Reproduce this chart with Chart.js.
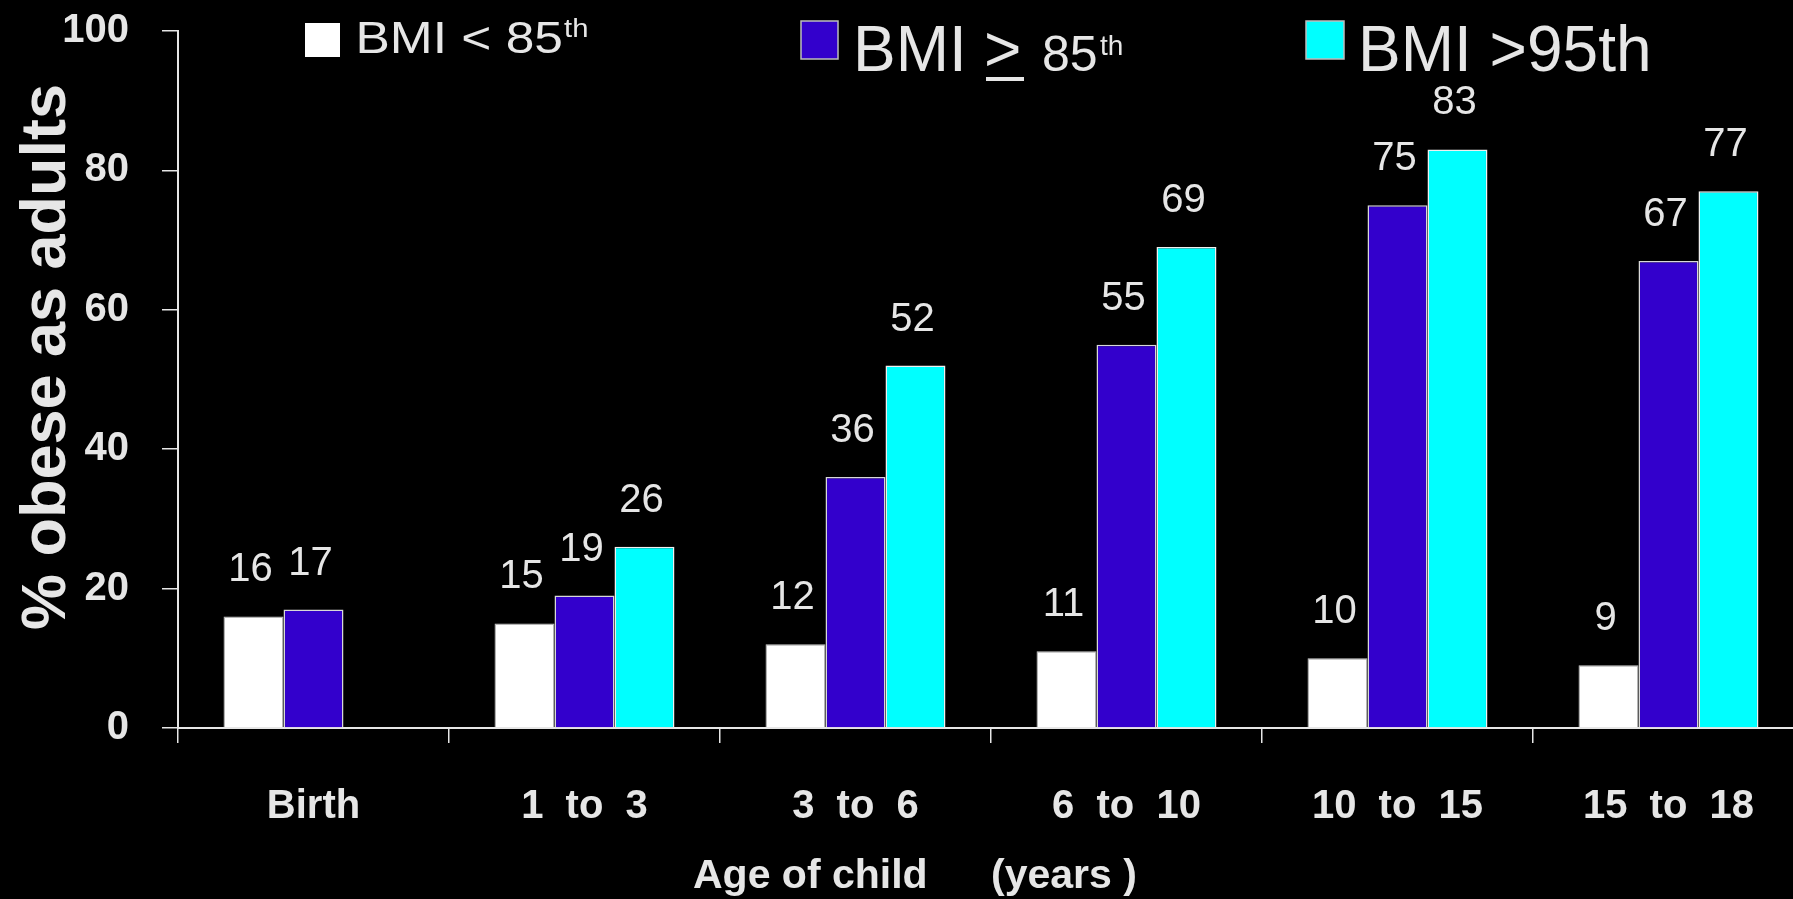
<!DOCTYPE html>
<html>
<head>
<meta charset="utf-8">
<title>Childhood BMI and adult obesity</title>
<script src="https://cdn.jsdelivr.net/npm/chart.js@4.4.1/dist/chart.umd.min.js"></script>
<style>
  html, body { margin: 0; padding: 0; background: #000; overflow: hidden; }
  #wrap { width: 1806px; height: 899px; }
</style>
</head>
<body>
<div id="wrap"><canvas id="chart" width="1806" height="899"></canvas></div>
<script>
// Age groups of the child
const categories = ['Birth', '1  to  3', '3  to  6', '6  to  10', '10  to  15', '15  to  18'];

// Percentage obese as adults, by childhood BMI group
const bmiBelow85 = [16, 15, 12, 11, 10, 9];
const bmiAtLeast85 = [17, 19, 36, 55, 75, 67];
const bmiAbove95 = [null, 26, 52, 69, 83, 77];

const seriesLabels = ['BMI < 85th', 'BMI \u2265 85th', 'BMI >95th'];
const yTicks = [0, 20, 40, 60, 80, 100];

const TEXT = '#e6e6e6';
const FONT = "'Liberation Sans', Arial, Helvetica, sans-serif";
const WHITE = '#ffffff';
const BLUE = '#3300cc';
const CYAN = '#00ffff';

// Numbers above each bar
const valueLabels = {
  id: 'valueLabels',
  afterDatasetsDraw(chart) {
    const ctx = chart.ctx;
    ctx.save();
    ctx.fillStyle = TEXT;
    ctx.font = '40px ' + FONT;
    ctx.textAlign = 'center';
    ctx.textBaseline = 'alphabetic';
    chart.data.datasets.forEach((ds, i) => {
      const meta = chart.getDatasetMeta(i);
      meta.data.forEach((bar, j) => {
        const v = ds.data[j];
        if (v === null || v === undefined) return;
        ctx.fillText(String(v), bar.x - 3, bar.y - 35);
      });
    });
    ctx.restore();
  }
};

// Legend across the top with superscripts and the underlined ">" sign
const topLegend = {
  id: 'topLegend',
  afterDraw(chart) {
    const ctx = chart.ctx;
    const colors = chart.data.datasets.map(d => d.backgroundColor);
    ctx.save();
    ctx.fillStyle = TEXT;
    ctx.textBaseline = 'alphabetic';
    ctx.textAlign = 'left';

    // item 1 : BMI < 85th
    ctx.fillStyle = colors[0];
    ctx.fillRect(305, 23, 35, 34);
    ctx.save();
    ctx.translate(359, 53);
    ctx.scale(1.17, 1);
    ctx.fillStyle = TEXT;
    ctx.font = '44px ' + FONT;
    ctx.fillText('BMI < 85', -3, 0);
    const w1 = ctx.measureText('BMI < 85').width;
    ctx.font = '25px ' + FONT;
    ctx.fillText('th', w1 - 2, -16);
    ctx.restore();

    // item 2 : BMI >= 85th
    ctx.fillStyle = colors[1];
    ctx.fillRect(801, 21, 37, 38);
    ctx.strokeStyle = '#bdbdbd';
    ctx.lineWidth = 1.5;
    ctx.strokeRect(801, 21, 37, 38);
    ctx.fillStyle = TEXT;
    ctx.font = '64px ' + FONT;
    ctx.fillText('BMI', 853, 71);
    ctx.fillText('>', 984, 71);
    ctx.fillRect(986, 77, 38, 4);
    ctx.font = '50px ' + FONT;
    ctx.fillText('85', 1042, 71);
    ctx.font = '28px ' + FONT;
    ctx.fillText('th', 1100, 55);

    // item 3 : BMI >95th
    ctx.fillStyle = colors[2];
    ctx.fillRect(1306, 21, 38, 38);
    ctx.strokeStyle = '#bdbdbd';
    ctx.strokeRect(1306, 21, 38, 38);
    ctx.fillStyle = TEXT;
    ctx.font = '64px ' + FONT;
    ctx.fillText('BMI >95th', 1358, 71);
    ctx.restore();
  }
};

// Axis titles
const axisTitles = {
  id: 'axisTitles',
  afterDraw(chart) {
    const ctx = chart.ctx;
    ctx.save();
    ctx.fillStyle = TEXT;
    ctx.font = 'bold 41px ' + FONT;
    ctx.textBaseline = 'alphabetic';
    ctx.textAlign = 'left';
    ctx.fillText('Age of child', 693, 888);
    ctx.fillText('(years )', 991, 888);

    ctx.translate(65, 357);
    ctx.rotate(-Math.PI / 2);
    ctx.textAlign = 'center';
    ctx.font = 'bold 63px ' + FONT;
    ctx.fillText('% obese as adults', 0, 0);
    ctx.restore();
  }
};

new Chart(document.getElementById('chart'), {
  type: 'bar',
  data: {
    labels: categories,
    datasets: [
      { label: seriesLabels[0], data: bmiBelow85, backgroundColor: WHITE, borderColor: '#cfcfcf', borderWidth: 1 },
      { label: seriesLabels[1], data: bmiAtLeast85, backgroundColor: BLUE, borderColor: '#d8d8d8', borderWidth: 1.5 },
      { label: seriesLabels[2], data: bmiAbove95, backgroundColor: CYAN, borderColor: '#f0f0f0', borderWidth: 1.5 }
    ]
  },
  options: {
    responsive: false,
    devicePixelRatio: 1,
    animation: false,
    layout: { padding: { top: 31, right: 2, left: 0, bottom: 0 } },
    datasets: { bar: { barPercentage: 1, categoryPercentage: 0.664 } },
    plugins: {
      legend: { display: false },
      tooltip: { enabled: false },
      title: { display: false }
    },
    scales: {
      x: {
        grid: { offset: true, drawOnChartArea: false, drawTicks: true, tickLength: 15, color: TEXT, lineWidth: 1.5 },
        border: { display: true, color: TEXT, width: 2 },
        ticks: { color: TEXT, font: { family: FONT, size: 40, weight: 'bold' }, padding: 40, maxRotation: 0, autoSkip: false },
        afterFit(scale) { scale.height = 171; scale.paddingLeft = 0; scale.paddingRight = 0; }
      },
      y: {
        min: 0,
        max: 100,
        afterBuildTicks(scale) { scale.ticks = yTicks.map(v => ({ value: v })); },
        grid: { drawOnChartArea: false, drawTicks: true, tickLength: 16, color: TEXT, lineWidth: 1.5 },
        border: { display: true, color: TEXT, width: 2 },
        ticks: { color: TEXT, font: { family: FONT, size: 40, weight: 'bold' }, padding: 33 },
        afterFit(scale) { scale.width = 178; scale.paddingTop = 0; scale.paddingBottom = 0; }
      }
    }
  },
  plugins: [valueLabels, topLegend, axisTitles]
});
</script>
</body>
</html>
